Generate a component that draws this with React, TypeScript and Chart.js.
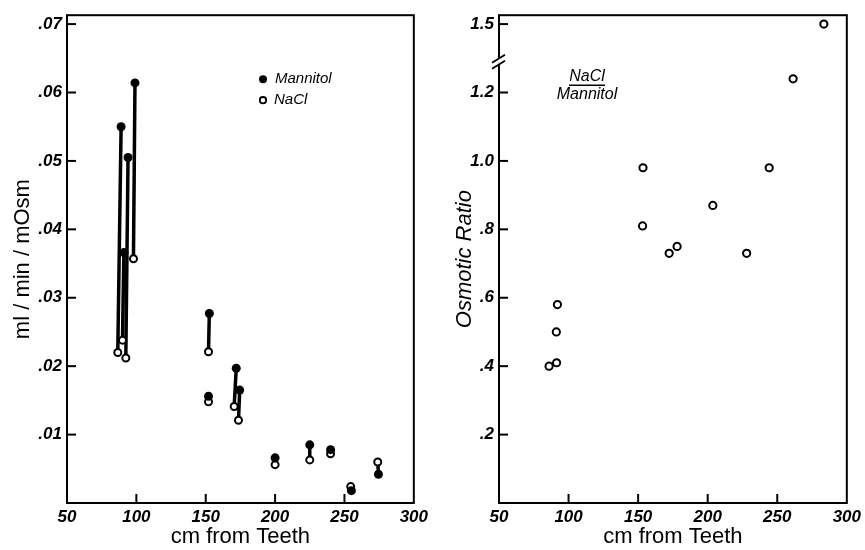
import React, { useEffect, useRef } from 'react';
import { Chart, registerables } from 'chart.js';

Chart.register(...registerables);

// ---------- Left panel: clearance (ml/min/mOsm) vs distance ----------
const mannitolCm = [89, 94, 99, 91, 152.6, 152, 172, 174.5, 200, 225, 240, 255, 274.5];
const mannitolVal = [0.055, 0.0505, 0.0614, 0.0366, 0.0277, 0.0156, 0.0197, 0.0165, 0.0066, 0.0085, 0.0078, 0.0018, 0.0042];
const naclCm = [86.6, 92.4, 97.9, 90, 152, 152, 170.5, 173.6, 200, 225, 240, 254.5, 274];
const naclVal = [0.022, 0.0212, 0.0357, 0.0238, 0.0221, 0.0148, 0.0141, 0.0121, 0.0056, 0.0063, 0.0072, 0.0024, 0.006];

// ---------- Right panel: osmotic ratio NaCl / Mannitol ----------
const ratioCm = [86, 91.4, 91.2, 92, 153.5, 153.2, 172.3, 178, 203.7, 228, 244.2, 261.4, 283.5];
const ratioVal = [0.4, 0.41, 0.5, 0.58, 0.98, 0.81, 0.73, 0.75, 0.87, 0.73, 0.98, 1.24, 1.5];

// axis definitions
const xMin = 50;
const xMax = 300;
const xStep = 50;
const leftYMax = 0.0713;
const leftYStep = 0.01;
const rightYMax = 1.426; // in broken-axis plot units
const rightYStep = 0.2;
const ratioBreakAt = 1.3; // axis break: values above are shifted down by ratioSkip
const ratioSkip = 0.1;
const ratioBreakMark = 1.29;

const FONT = "'Liberation Sans', Arial, Helvetica, sans-serif";

const breakMap = (v: number) => (v > ratioBreakAt ? v - ratioSkip : v);

const tickFont = { family: FONT, size: 17, style: 'italic' as const, weight: 'bold' as const };

// plot frame with inward ticks
const framePlugin = {
  id: 'frame',
  afterDraw(chart: any) {
    const { ctx, chartArea: a, scales } = chart;
    ctx.save();
    ctx.strokeStyle = '#000';
    ctx.lineWidth = 2;
    ctx.strokeRect(a.left, a.top, a.right - a.left, a.bottom - a.top);
    const ys = scales.y;
    ys.ticks.forEach((t: any) => {
      if (t.value <= ys.min + 1e-9) return;
      const py = ys.getPixelForValue(t.value);
      ctx.beginPath();
      ctx.moveTo(a.left, py);
      ctx.lineTo(a.left + 9, py);
      ctx.stroke();
    });
    const xs = scales.x;
    xs.ticks.forEach((t: any) => {
      if (t.value <= xs.min || t.value >= xs.max) return;
      const px = xs.getPixelForValue(t.value);
      ctx.beginPath();
      ctx.moveTo(px, a.bottom);
      ctx.lineTo(px, a.bottom - 9);
      ctx.stroke();
    });
    ctx.restore();
  },
};

// connecting bars between the Mannitol and NaCl values of each segment
const pairPlugin = {
  id: 'pairs',
  beforeDatasetsDraw(chart: any) {
    const { ctx, scales } = chart;
    ctx.save();
    ctx.strokeStyle = '#000';
    ctx.lineWidth = 3.5;
    ctx.lineCap = 'butt';
    for (let i = 0; i < mannitolCm.length; i++) {
      ctx.beginPath();
      ctx.moveTo(scales.x.getPixelForValue(mannitolCm[i]), scales.y.getPixelForValue(mannitolVal[i]));
      ctx.lineTo(scales.x.getPixelForValue(naclCm[i]), scales.y.getPixelForValue(naclVal[i]));
      ctx.stroke();
    }
    ctx.restore();
  },
};

const legendPlugin = {
  id: 'innerLegend',
  afterDraw(chart: any) {
    const { ctx, chartArea: a } = chart;
    ctx.save();
    ctx.fillStyle = '#000';
    ctx.strokeStyle = '#000';
    ctx.font = `italic 15px ${FONT}`;
    ctx.textBaseline = 'middle';
    // Mannitol
    ctx.beginPath();
    ctx.arc(a.left + 196, a.top + 64, 4, 0, Math.PI * 2);
    ctx.fill();
    ctx.fillText('Mannitol', a.left + 208, a.top + 64);
    // NaCl
    ctx.lineWidth = 1.8;
    ctx.beginPath();
    ctx.arc(a.left + 196, a.top + 85, 3.2, 0, Math.PI * 2);
    ctx.stroke();
    ctx.fillText('NaCl', a.left + 207, a.top + 85);
    ctx.restore();
  },
};

const ratioNotePlugin = {
  id: 'ratioNote',
  afterDraw(chart: any) {
    const { ctx, chartArea: a, scales } = chart;
    ctx.save();
    ctx.fillStyle = '#000';
    ctx.strokeStyle = '#000';
    ctx.font = `italic 16px ${FONT}`;
    ctx.textAlign = 'center';
    ctx.textBaseline = 'middle';
    const cx = a.left + 88;
    ctx.fillText('NaCl', cx, a.top + 61);
    ctx.lineWidth = 1.5;
    ctx.beginPath();
    ctx.moveTo(cx - 18, a.top + 70);
    ctx.lineTo(cx + 18, a.top + 70);
    ctx.stroke();
    ctx.fillText('Mannitol', cx, a.top + 79);
    // axis break mark
    const by = scales.y.getPixelForValue(ratioBreakMark);
    ctx.fillStyle = '#fff';
    ctx.fillRect(a.left - 3, by - 3, 6, 6);
    ctx.lineWidth = 1.8;
    ctx.beginPath();
    ctx.moveTo(a.left - 7, by + 1);
    ctx.lineTo(a.left + 6, by - 7);
    ctx.moveTo(a.left - 7, by + 7);
    ctx.lineTo(a.left + 6, by - 1);
    ctx.stroke();
    ctx.restore();
  },
};

const xScale = (titleText: string) => ({
  type: 'linear' as const,
  min: xMin,
  max: xMax,
  ticks: { stepSize: xStep, color: '#000', font: tickFont, padding: 4, maxRotation: 0 },
  grid: { display: false, drawTicks: false },
  border: { display: false },
  title: { display: true, text: titleText, color: '#000', font: { family: FONT, size: 22 }, padding: { top: 0, bottom: 0 } },
  afterFit(scale: any) {
    scale.height = 47;
  },
});

function LeftChart() {
  const ref = useRef<HTMLCanvasElement | null>(null);
  useEffect(() => {
    if (!ref.current) return;
    const chart = new Chart(ref.current, {
      type: 'scatter',
      data: {
        datasets: [
          {
            label: 'Mannitol',
            data: mannitolCm.map((x, i) => ({ x, y: mannitolVal[i] })),
            pointRadius: 4.5,
            pointBackgroundColor: '#000',
            pointBorderColor: '#000',
            pointBorderWidth: 0,
          },
          {
            label: 'NaCl',
            data: naclCm.map((x, i) => ({ x, y: naclVal[i] })),
            pointRadius: 3.5,
            pointBackgroundColor: '#fff',
            pointBorderColor: '#000',
            pointBorderWidth: 2,
          },
        ],
      },
      options: {
        responsive: false,
        animation: false,
        layout: { padding: { left: 0, right: 15, top: 10, bottom: 0 } },
        plugins: { legend: { display: false }, tooltip: { enabled: false } },
        scales: {
          x: xScale('cm from Teeth'),
          y: {
            type: 'linear',
            min: 0,
            max: leftYMax,
            ticks: {
              stepSize: leftYStep,
              includeBounds: false,
              color: '#000',
              font: tickFont,
              padding: 5,
              callback: (v: any) => {
                const n = Math.round(Number(v) * 100);
                return n === 0 ? '' : '.0' + n;
              },
            },
            grid: { display: false, drawTicks: false },
            border: { display: false },
            title: { display: true, text: 'ml / min / mOsm', color: '#000', font: { family: FONT, size: 22 }, padding: { top: 10, bottom: 0 } },
            afterFit(scale: any) {
              scale.width = 67;
            },
          },
        },
      },
      plugins: [pairPlugin, framePlugin, legendPlugin],
    } as any);
    return () => chart.destroy();
  }, []);
  return <canvas ref={ref} width={432} height={550} style={{ position: 'absolute', left: 0, top: 0, width: 432, height: 550 }} />;
}

function RightChart() {
  const ref = useRef<HTMLCanvasElement | null>(null);
  useEffect(() => {
    if (!ref.current) return;
    const chart = new Chart(ref.current, {
      type: 'scatter',
      data: {
        datasets: [
          {
            label: 'NaCl / Mannitol',
            data: ratioCm.map((x, i) => ({ x, y: breakMap(ratioVal[i]) })),
            pointRadius: 3.6,
            pointBackgroundColor: '#fff',
            pointBorderColor: '#000',
            pointBorderWidth: 2,
          },
        ],
      },
      options: {
        responsive: false,
        animation: false,
        layout: { padding: { left: 0, right: 18, top: 10, bottom: 0 } },
        plugins: { legend: { display: false }, tooltip: { enabled: false } },
        scales: {
          x: xScale('cm from Teeth'),
          y: {
            type: 'linear',
            min: 0,
            max: rightYMax,
            ticks: {
              stepSize: rightYStep,
              includeBounds: false,
              color: '#000',
              font: tickFont,
              padding: 5,
              callback: (v: any) => {
                const n = Math.round(Number(v) * 10);
                if (n === 0) return '';
                const real = n / 10 > ratioBreakAt ? n / 10 + ratioSkip : n / 10;
                const s = real.toFixed(1);
                return s.startsWith('0') ? s.slice(1) : s;
              },
            },
            grid: { display: false, drawTicks: false },
            border: { display: false },
            title: { display: true, text: 'Osmotic Ratio', color: '#000', font: { family: FONT, size: 22, style: 'italic' }, padding: { top: 20, bottom: 0 } },
            afterFit(scale: any) {
              scale.width = 67;
            },
          },
        },
      },
      plugins: [framePlugin, ratioNotePlugin],
    } as any);
    return () => chart.destroy();
  }, []);
  return <canvas ref={ref} width={433} height={550} style={{ position: 'absolute', left: 432, top: 0, width: 433, height: 550 }} />;
}

export default function App() {
  return (
    <div style={{ position: 'absolute', left: 0, top: 0, width: 865, height: 550, background: '#fff', overflow: 'hidden' }}>
      <LeftChart />
      <RightChart />
    </div>
  );
}
